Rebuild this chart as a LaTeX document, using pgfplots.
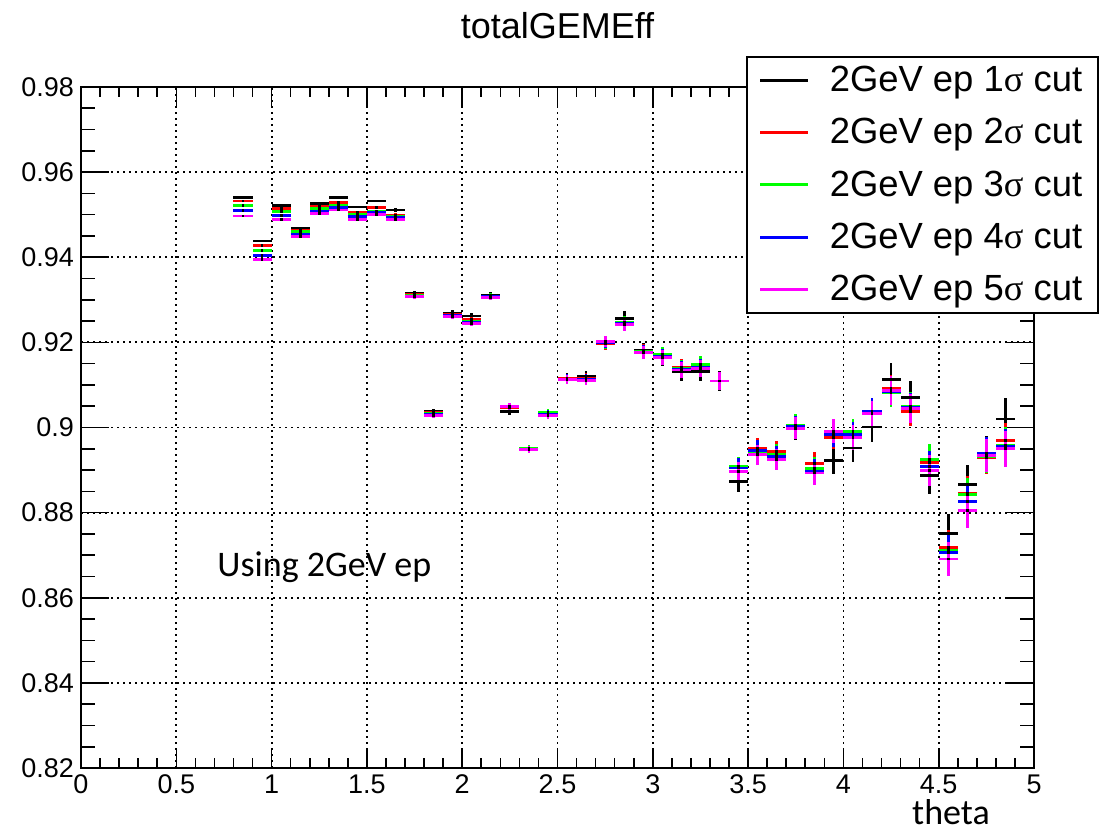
\documentclass[border=0pt]{standalone}
\usepackage{fontspec}
\setmainfont{Liberation Sans}
\newfontfamily\sigfont{Liberation Serif}
\newfontfamily\calfont{Carlito}
\usepackage{pgfplots}
\usepackage{pgfplotstable}
\pgfplotsset{compat=1.18}

\definecolor{rRed}{RGB}{255,0,0}
\definecolor{rGreen}{RGB}{0,255,0}
\definecolor{rBlue}{RGB}{0,0,255}
\definecolor{rMagenta}{RGB}{255,0,255}

% theta bin centres, efficiency for the 1..5 sigma cuts, errors (ek: 1 sigma cut)
\pgfplotstableread{
x     k       r       g       b       m       e       ek
0.85  0.9540  0.9532  0.9522  0.9509  0.9497  0.0003  0.0003
0.95  0.9438  0.9428  0.9416  0.9404  0.9395  0.0003  0.0003
1.05  0.9521  0.9515  0.9507  0.9499  0.9489  0.0003  0.0003
1.15  0.9468  0.9464  0.9460  0.9454  0.9448  0.0003  0.0003
1.25  0.9526  0.9520  0.9514  0.9508  0.9503  0.0003  0.0003
1.35  0.9540  0.9529  0.9522  0.9516  0.9511  0.0003  0.0003
1.45  0.9518  0.9505  0.9500  0.9496  0.9489  0.0003  0.0003
1.55  0.9532  0.9516  0.9507  0.9505  0.9501  0.0003  0.0003
1.65  0.9511  0.9499  0.9496  0.9493  0.9489  0.0004  0.0004
1.75  0.9314  0.9312  0.9310  0.9309  0.9307  0.0006  0.0007
1.85  0.9037  0.9035  0.9033  0.9031  0.9029  0.0006  0.0007
1.95  0.9269  0.9266  0.9264  0.9263  0.9261  0.0006  0.0007
2.05  0.9262  0.9254  0.9250  0.9248  0.9245  0.0006  0.0007
2.15  0.9310  0.9309  0.9308  0.9307  0.9306  0.0007  0.0008
2.25  0.9038  0.9047  0.9048  0.9049  0.9050  0.0008  0.0009
2.35  0.8951  0.8951  0.8950  0.8949  0.8949  0.0008  0.0009
2.45  0.9031  0.9033  0.9035  0.9031  0.9029  0.0009  0.0010
2.55  0.9116  0.9115  0.9114  0.9114  0.9113  0.0011  0.0013
2.65  0.9119  0.9115  0.9114  0.9113  0.9111  0.0012  0.0014
2.75  0.9198  0.9197  0.9199  0.9200  0.9202  0.0014  0.0016
2.85  0.9257  0.9248  0.9246  0.9244  0.9242  0.0015  0.0017
2.95  0.9180  0.9179  0.9178  0.9177  0.9176  0.0016  0.0018
3.05  0.9165  0.9170  0.9172  0.9168  0.9164  0.0017  0.0020
3.15  0.9131  0.9142  0.9139  0.9137  0.9135  0.0019  0.0022
3.25  0.9132  0.9145  0.9148  0.9142  0.9138  0.0020  0.0023
3.35  0.9109  0.9109  0.9109  0.9109  0.9109  0.0021  0.0024
3.45  0.8874  0.8907  0.8908  0.8905  0.8896  0.0023  0.0026
3.55  0.8940  0.8951  0.8944  0.8946  0.8936  0.0024  0.0028
3.65  0.8935  0.8944  0.8936  0.8931  0.8925  0.0025  0.0029
3.75  0.9000  0.9003  0.9006  0.9002  0.8998  0.0026  0.0030
3.85  0.8900  0.8915  0.8903  0.8898  0.8893  0.0027  0.0031
3.95  0.8922  0.8977  0.8985  0.8983  0.8991  0.0028  0.0032
4.05  0.8952  0.8980  0.8991  0.8984  0.8976  0.0029  0.0033
4.15  0.9001  0.9035  0.9035  0.9038  0.9032  0.0031  0.0036
4.25  0.9113  0.9091  0.9081  0.9085  0.9087  0.0033  0.0038
4.35  0.9070  0.9038  0.9050  0.9047  0.9045  0.0034  0.0039
4.45  0.8887  0.8917  0.8924  0.8908  0.8899  0.0037  0.0043
4.55  0.8750  0.8718  0.8712  0.8706  0.8691  0.0041  0.0047
4.65  0.8866  0.8845  0.8842  0.8827  0.8805  0.0040  0.0046
4.75  0.8935  0.8929  0.8932  0.8939  0.8934  0.0038  0.0044
4.85  0.9020  0.8969  0.8958  0.8955  0.8950  0.0042  0.0049
}\effdata

% one bin: horizontal bar over the bin width, vertical error bar, tiny centre dot
\pgfplotsset{
  binerr/.style={only marks, mark=square*, mark size=0.45pt,
    mark options={black, fill=black, line width=0pt}, color=#1, forget plot,
    error bars/.cd, x dir=both, x fixed=0.05, y dir=both, y explicit,
    error mark=none, error bar style={line width=1.4pt, color=#1, solid}},
}

\begin{document}
\begin{tikzpicture}
\useasboundingbox (0,0) rectangle (553pt,416.5pt);
\begin{axis}[
  at={(40.5pt,32.5pt)}, anchor=south west,
  scale only axis, width=476.5pt, height=340.5pt,
  xmin=0, xmax=5, ymin=0.82, ymax=0.98,
  xtick={0,0.5,1,1.5,2,2.5,3,3.5,4,4.5,5},
  ytick={0.82,0.84,0.86,0.88,0.9,0.92,0.94,0.96,0.98},
  yticklabels={0.82,0.84,0.86,0.88,0.9,0.92,0.94,0.96,0.98},
  minor x tick num=4, minor y tick num=3,
  xtick pos=both, ytick pos=both,
  xticklabel pos=lower, yticklabel pos=left,
  tick align=inside,
  xtick style={/pgfplots/major tick length=10pt, /pgfplots/minor tick length=5pt, line width=0.8pt, black},
  ytick style={/pgfplots/major tick length=14pt, /pgfplots/minor tick length=7pt, line width=0.8pt, black},
  axis line style={line width=1pt},
  grid=major,
  grid style={black, line width=0.9pt, dash pattern=on 0.9pt off 2.1pt},
  tick label style={font=\fontsize{13.5}{16}\selectfont},
  /pgf/number format/assume math mode=true,
  title={totalGEMEff},
  title style={at={(0.5,1.0543)}, anchor=base, font=\fontsize{18}{22}\selectfont, inner sep=0pt},
  xlabel={\calfont theta},
  xlabel style={at={(axis description cs:0.954,-0.0837)}, anchor=base east, font=\fontsize{18}{22}\selectfont, inner sep=0pt},
  legend style={at={(0.6978,1.0455)}, anchor=north west, draw=black, line width=0.8pt,
    fill=white, font=\fontsize{18.2}{22}\selectfont, row sep=8pt, column sep=8pt,
    inner xsep=6pt, inner ysep=2.5pt, cells={anchor=west}},
  legend image code/.code={\draw[#1, line width=1.5pt] (0pt,0pt) -- (24pt,0pt);},
]
\addplot[binerr=black]    table[x=x, y=k, y error=ek] {\effdata};
\addplot[binerr=rRed]     table[x=x, y=r, y error=e]  {\effdata};
\addplot[binerr=rGreen]   table[x=x, y=g, y error=e]  {\effdata};
\addplot[binerr=rBlue]    table[x=x, y=b, y error=e]  {\effdata};
\addplot[binerr=rMagenta] table[x=x, y=m, y error=e]  {\effdata};

\addlegendimage{black}
\addlegendentry{2GeV ep 1{\sigfont σ} cut}
\addlegendimage{rRed}
\addlegendentry{2GeV ep 2{\sigfont σ} cut}
\addlegendimage{rGreen}
\addlegendentry{2GeV ep 3{\sigfont σ} cut}
\addlegendimage{rBlue}
\addlegendentry{2GeV ep 4{\sigfont σ} cut}
\addlegendimage{rMagenta}
\addlegendentry{2GeV ep 5{\sigfont σ} cut}

\node[anchor=base west, inner sep=0pt, font=\calfont\fontsize{18}{22}\selectfont]
  at (axis cs:0.714,0.8649) {Using 2GeV ep};
\end{axis}
\end{tikzpicture}
\end{document}
